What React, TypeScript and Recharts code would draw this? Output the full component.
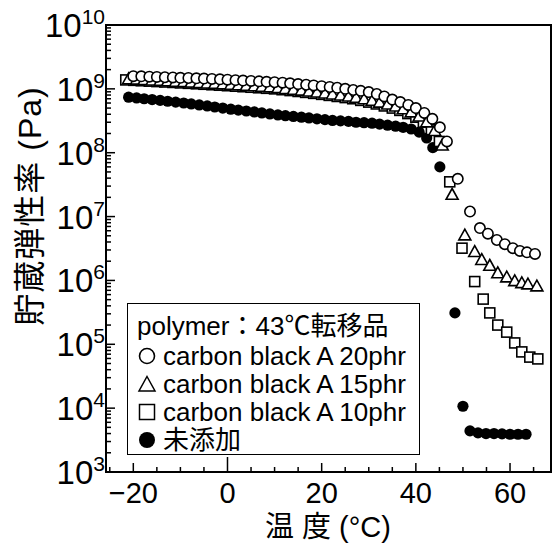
import React from "react";
import { ScatterChart, Scatter, XAxis, YAxis, ReferenceArea } from "recharts";

// 温度 (°C) と貯蔵弾性率 (Pa)
const T20 = [
  -20.0, -18.3, -16.6, -15.0, -13.3, -11.6, -10.0, -8.3, -6.6, -5.0, -3.3, -1.6, 0.0, 1.7, 3.3, 5.0, 6.7,
  8.3, 10.0, 11.7, 13.3, 15.0, 16.7, 18.3, 20.0, 21.7, 23.3, 25.0, 26.7, 28.3, 30.0, 31.7, 33.3, 35.0, 36.7,
  38.4, 40.0, 41.8, 43.5, 45.1, 46.6, 48.9, 51.5, 53.6, 55.3, 57.2, 58.9, 60.6, 62.1, 63.6, 65.3,
];
const G20 = [
  1.58e9, 1.57e9, 1.55e9, 1.54e9, 1.52e9, 1.51e9, 1.49e9, 1.48e9, 1.46e9, 1.45e9, 1.43e9, 1.41e9, 1.39e9,
  1.37e9, 1.35e9, 1.33e9, 1.31e9, 1.29e9, 1.27e9, 1.25e9, 1.22e9, 1.19e9, 1.16e9, 1.13e9, 1.1e9, 1.07e9,
  1.04e9, 1.0e9, 9.6e8, 9.3e8, 8.9e8, 8.3e8, 7.6e8, 6.8e8, 6.2e8, 5.6e8, 5.0e8, 4.2e8, 3.4e8, 2.5e8, 1.5e8,
  3.9e7, 1.2e7, 6.6e6, 5.4e6, 4.3e6, 3.7e6, 3.2e6, 2.9e6, 2.75e6, 2.6e6,
];

const T15 = [
  -21.0, -19.3, -17.7, -16.0, -14.3, -12.7, -11.0, -9.3, -7.7, -6.0, -4.3, -2.7, -1.0, 0.7, 2.3, 4.0, 5.7,
  7.3, 9.0, 10.7, 12.3, 14.0, 15.7, 17.3, 19.0, 20.7, 22.3, 24.0, 25.7, 27.3, 29.0, 30.7, 32.3, 34.0, 35.7,
  37.3, 39.0, 40.7, 42.3, 44.0, 45.6, 47.7, 50.4, 52.5, 54.0, 55.7, 57.4, 59.3, 61.0, 62.5, 63.8, 65.7,
];
const G15 = [
  1.42e9, 1.4e9, 1.38e9, 1.36e9, 1.34e9, 1.32e9, 1.3e9, 1.28e9, 1.26e9, 1.24e9, 1.22e9, 1.2e9, 1.18e9,
  1.16e9, 1.14e9, 1.12e9, 1.1e9, 1.08e9, 1.06e9, 1.03e9, 1.0e9, 9.7e8, 9.4e8, 9.1e8, 8.8e8, 8.5e8, 8.2e8,
  7.9e8, 7.6e8, 7.3e8, 6.9e8, 6.5e8, 6.1e8, 5.7e8, 5.3e8, 4.8e8, 4.3e8, 3.7e8, 3.0e8, 2.2e8, 1.3e8, 2.2e7,
  5.1e6, 2.8e6, 2.1e6, 1.7e6, 1.3e6, 1.12e6, 9.8e5, 9.1e5, 8.7e5, 8.1e5,
];

const T10 = [
  -21.6, -19.9, -18.3, -16.6, -15.0, -13.3, -11.6, -10.0, -8.3, -6.6, -5.0, -3.3, -1.7, 0.0, 1.7, 3.3, 5.0,
  6.6, 8.3, 10.0, 11.6, 13.3, 15.0, 16.6, 18.3, 20.0, 21.6, 23.3, 25.0, 26.6, 28.3, 30.0, 31.6, 33.3, 35.0,
  36.6, 38.3, 40.0, 41.6, 43.3, 45.0, 47.2, 49.8, 52.5, 54.3, 55.7, 57.4, 59.3, 61.0, 62.5, 64.2, 65.9,
];
const G10 = [
  1.38e9, 1.36e9, 1.34e9, 1.32e9, 1.3e9, 1.28e9, 1.26e9, 1.24e9, 1.22e9, 1.2e9, 1.18e9, 1.16e9, 1.14e9,
  1.12e9, 1.1e9, 1.08e9, 1.06e9, 1.04e9, 1.02e9, 1.0e9, 9.7e8, 9.4e8, 9.1e8, 8.8e8, 8.5e8, 8.2e8, 7.9e8,
  7.6e8, 7.3e8, 7.0e8, 6.6e8, 6.2e8, 5.8e8, 5.4e8, 5.0e8, 4.6e8, 4.1e8, 3.6e8, 3.0e8, 2.3e8, 1.5e8, 3.5e7,
  3.2e6, 9.6e5, 5.1e5, 3.1e5, 2.0e5, 1.55e5, 1.05e5, 7.6e4, 6.3e4, 5.9e4,
];

const T0 = [
  -21.0, -19.3, -17.7, -16.0, -14.3, -12.7, -11.0, -9.3, -7.7, -6.0, -4.3, -2.7, -1.0, 0.7, 2.3, 4.0, 5.7,
  7.3, 9.0, 10.7, 12.3, 14.0, 15.7, 17.3, 19.0, 20.7, 22.3, 24.0, 25.7, 27.3, 29.0, 30.7, 32.3, 34.0, 35.7,
  37.3, 39.0, 40.7, 42.3, 43.6, 45.1, 48.3, 50.0, 51.5, 53.2, 54.9, 56.6, 58.3, 60.0, 61.7, 63.4,
];
const G0 = [
  7.4e8, 7.2e8, 7.0e8, 6.8e8, 6.6e8, 6.4e8, 6.2e8, 6.0e8, 5.8e8, 5.6e8, 5.4e8, 5.2e8, 5.0e8, 4.8e8, 4.65e8,
  4.5e8, 4.35e8, 4.2e8, 4.05e8, 3.9e8, 3.8e8, 3.7e8, 3.6e8, 3.5e8, 3.4e8, 3.3e8, 3.2e8, 3.15e8, 3.1e8, 3.0e8,
  2.95e8, 2.9e8, 2.8e8, 2.7e8, 2.6e8, 2.5e8, 2.35e8, 2.1e8, 1.7e8, 1.2e8, 6.0e7, 3.1e5, 1.07e4, 4.4e3,
  4.1e3, 4.0e3, 4.0e3, 3.95e3, 3.9e3, 3.9e3, 3.9e3,
];

const X_TICKS = [-25, -20, -15, -10, -5, 0, 5, 10, 15, 20, 25, 30, 35, 40, 45, 50, 55, 60, 65];
const X_LABELS = [-20, 0, 20, 40, 60];
const Y_DECADES = [1e3, 1e4, 1e5, 1e6, 1e7, 1e8, 1e9, 1e10];
const Y_TICKS = Y_DECADES.flatMap((d, i) =>
  i === Y_DECADES.length - 1 ? [d] : [d, 2 * d, 3 * d, 4 * d, 5 * d, 6 * d, 7 * d, 8 * d, 9 * d]
);

const X_DOMAIN: [number, number] = [-25.8, 68.7];
const Y_DOMAIN: [number, number] = [1e3, 1e10];

const FONT = "'Liberation Sans', Arial, 'Noto Sans CJK JP', sans-serif";

const pts = (ts: number[], gs: number[]) => ts.map((t, i) => ({ x: t, y: gs[i] }));

const OpenCircle = ({ cx, cy }: any) => (
  <circle cx={cx} cy={cy} r={5.2} fill="#fff" stroke="#000" strokeWidth={1.6} />
);
const OpenTriangle = ({ cx, cy }: any) => (
  <path
    d={`M${cx},${cy - 6.2}L${cx + 6},${cy + 4.6}L${cx - 6},${cy + 4.6}Z`}
    fill="#fff"
    stroke="#000"
    strokeWidth={1.6}
  />
);
const OpenSquare = ({ cx, cy }: any) => (
  <rect x={cx - 5} y={cy - 5} width={10} height={10} fill="#fff" stroke="#000" strokeWidth={1.6} />
);
const FilledCircle = ({ cx, cy }: any) => <circle cx={cx} cy={cy} r={5.6} fill="#000" />;

const XTick = ({ x, y, payload }: any) => {
  const v = payload.value;
  const major = X_LABELS.includes(v);
  const len = v === 0 ? 15 : major ? 9 : 5;
  return (
    <g>
      <line x1={x} y1={y} x2={x} y2={y - len} stroke="#000" strokeWidth={1.5} />
      {major && (
        <text x={x} y={y + 31} textAnchor="middle" fontSize={29} fontFamily={FONT} fill="#000">
          {v < 0 ? `\u2212${-v}` : v}
        </text>
      )}
    </g>
  );
};

const YTick = ({ x, y, payload }: any) => {
  const v = payload.value;
  const e = Math.log10(v);
  const major = Math.abs(e - Math.round(e)) < 1e-6;
  return (
    <g>
      <line x1={x} y1={y} x2={x + (major ? 9 : 5)} y2={y} stroke="#000" strokeWidth={1.5} />
      {major && (
        <text x={x - 1} y={y + 12} textAnchor="end" fontSize={33} fontFamily={FONT} fill="#000">
          10
          <tspan fontSize={21} dy={-13}>
            {Math.round(e)}
          </tspan>
        </text>
      )}
    </g>
  );
};

const Sym = ({ kind }: { kind: string }) => (
  <svg width={20} height={20} style={{ marginRight: 6, flex: "none" }}>
    {kind === "c" && <circle cx={10} cy={10} r={7.5} fill="#fff" stroke="#000" strokeWidth={1.6} />}
    {kind === "t" && <path d="M10,2.5L18,17L2,17Z" fill="#fff" stroke="#000" strokeWidth={1.5} />}
    {kind === "s" && <rect x={2.5} y={2.5} width={15} height={15} fill="#fff" stroke="#000" strokeWidth={1.5} />}
    {kind === "f" && <circle cx={10} cy={10} r={8} fill="#000" />}
  </svg>
);

const LEGEND = [
  { kind: "c", text: "carbon black A 20phr" },
  { kind: "t", text: "carbon black A 15phr" },
  { kind: "s", text: "carbon black A 10phr" },
  { kind: "f", text: "未添加" },
];

export default function App() {
  return (
    <div style={{ position: "absolute", left: 0, top: 0, width: 552, height: 545, background: "#fff" }}>
      <ScatterChart width={552} height={545} margin={{ top: 25, right: 1, left: 0, bottom: 0 }}>
        <XAxis
          type="number"
          dataKey="x"
          domain={X_DOMAIN}
          ticks={X_TICKS}
          interval={0}
          tickSize={0}
          tickMargin={0}
          tickLine={false}
          tick={<XTick />}
          height={73}
          axisLine={{ stroke: "#000", strokeWidth: 2 }}
          allowDataOverflow
          label={{
            content: () => (
              <text x={328} y={537} textAnchor="middle" fontSize={29} fontFamily={FONT} fill="#000">
                温 度 (°C)
              </text>
            ),
          }}
        />
        <YAxis
          type="number"
          dataKey="y"
          scale="log"
          domain={Y_DOMAIN}
          ticks={Y_TICKS}
          interval={0}
          tickSize={0}
          tickMargin={0}
          tickLine={false}
          tick={<YTick />}
          width={106}
          axisLine={{ stroke: "#000", strokeWidth: 2 }}
          allowDataOverflow
          label={{
            content: () => (
              <text
                x={30}
                y={206}
                transform="rotate(-90 30 206)"
                textAnchor="middle"
                dominantBaseline="central"
                fontSize={32}
                letterSpacing={1}
                fontFamily={FONT}
                fill="#000"
              >
                貯蔵弾性率 (Pa)
              </text>
            ),
          }}
        />
        <ReferenceArea
          x1={X_DOMAIN[0]}
          x2={X_DOMAIN[1]}
          y1={Y_DOMAIN[0]}
          y2={Y_DOMAIN[1]}
          fill="none"
          stroke="#000"
          strokeWidth={2}
          ifOverflow="visible"
        />
        <Scatter data={pts(T0, G0)} shape={<FilledCircle />} isAnimationActive={false} />
        <Scatter data={pts(T10, G10)} shape={<OpenSquare />} isAnimationActive={false} />
        <Scatter data={pts(T15, G15)} shape={<OpenTriangle />} isAnimationActive={false} />
        <Scatter data={pts(T20, G20)} shape={<OpenCircle />} isAnimationActive={false} />
      </ScatterChart>
      <div
        style={{
          position: "absolute",
          left: 127,
          top: 303,
          width: 293,
          height: 152,
          border: "1.5px solid #000",
          background: "#fff",
          fontFamily: FONT,
          fontSize: 26,
          color: "#000",
          padding: "8px 0 0 9px",
          boxSizing: "border-box",
          lineHeight: "28px",
        }}
      >
        <div style={{ whiteSpace: "nowrap", marginBottom: 2 }}>polymer：43℃転移品</div>
        {LEGEND.map((l) => (
          <div key={l.kind} style={{ display: "flex", alignItems: "center", whiteSpace: "nowrap" }}>
            <Sym kind={l.kind} />
            <span>{l.text}</span>
          </div>
        ))}
      </div>
    </div>
  );
}
